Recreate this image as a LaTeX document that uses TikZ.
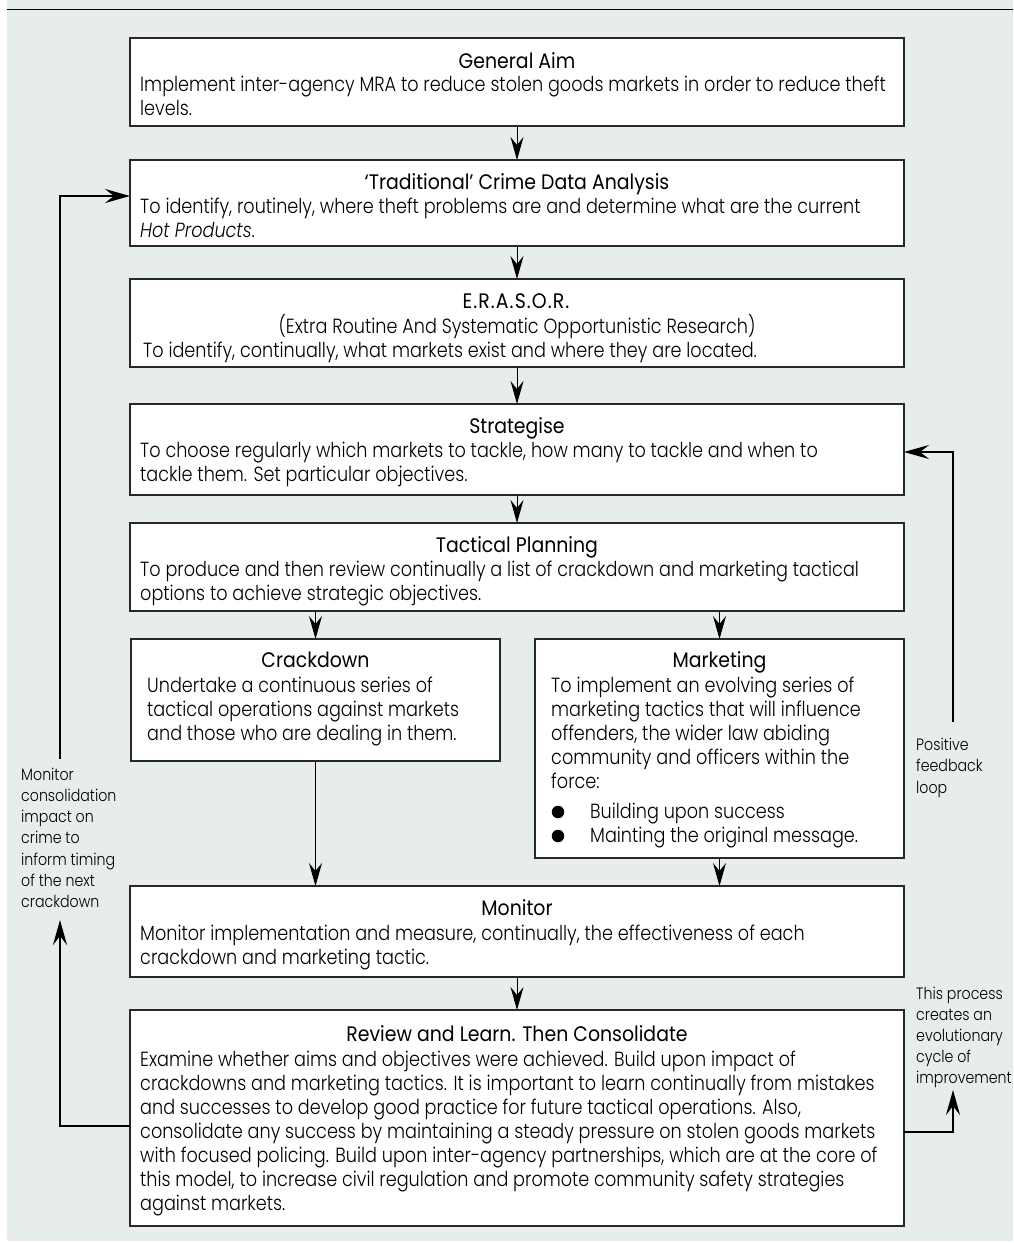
\documentclass[tikz,border=0pt]{standalone}
\usepackage{fontspec}
\setmainfont{Poppins}[UprightFont=* Light, ItalicFont=* Light Italic, FakeStretch=0.86]
\newfontfamily\titlefont{Poppins}[FakeStretch=0.9]
\usetikzlibrary{arrows.meta}
\definecolor{bgc}{RGB}{231,237,235}
\definecolor{linec}{RGB}{40,40,40}
\newcommand\blines[2]{\vtop{\baselineskip=#1\lineskiplimit=-100pt\lineskip=0pt\halign{##\hfil\cr#2\crcr}}}
\begin{document}
\begin{tikzpicture}[x=1pt,y=-1pt,
  box/.style={draw=linec, line width=1.6pt, fill=white, inner sep=0pt, outer sep=0pt, rectangle},
  ttl/.style={font=\titlefont\fontsize{21}{24}\selectfont, inner sep=0pt, anchor=base, text=black},
  bodyt/.style={font=\fontsize{20.5}{24}\selectfont, inner sep=0pt, anchor=base west, text=black},
  lbl/.style={font=\fontsize{16.5}{21}\selectfont, inner sep=0pt, anchor=base west, text=black},
  flow/.style={draw=black, line width=1pt, -{Stealth[length=23pt,width=13pt,inset=8pt]}},
  loopar/.style={draw=black, line width=2.4pt, -{Stealth[length=25pt,width=14pt,inset=9pt]}},
  dot/.style={circle, fill=black, inner sep=0pt, minimum size=12.5pt}]
\useasboundingbox (0,0) rectangle (1013,1243);
\fill[white] (0,0) rectangle (1013,1243);
\fill[bgc] (7,0) rectangle (1013,1241);
\draw[line width=1.3pt] (7,9.3) -- (1013,9.3);

% boxes
\node[box, minimum width=774pt, minimum height=88.3pt] (ga) at (517,81.85) {};
\node[box, minimum width=774pt, minimum height=85.7pt] (trad) at (517,202.85) {};
\node[box, minimum width=774pt, minimum height=88pt] (eras) at (517,323) {};
\node[box, minimum width=774pt, minimum height=91pt] (strat) at (517,449.5) {};
\node[box, minimum width=774pt, minimum height=88pt] (tact) at (517,567) {};
\node[box, minimum width=369pt, minimum height=122pt] (crack) at (315.5,700) {};
\node[box, minimum width=369pt, minimum height=219pt] (mark) at (719.5,748.5) {};
\node[box, minimum width=774pt, minimum height=91pt] (mon) at (517,931.5) {};
\node[box, minimum width=774pt, minimum height=216pt] (rev) at (517,1118) {};

% texts
\node[ttl] (gaT) at (517,68) {General Aim};
\node[bodyt] (gaB) at (140,91) {\blines{24pt}{Implement inter-agency MRA to reduce stolen goods markets in order to reduce theft\cr levels.}};

\node[ttl] (tradT) at (517,189) {‘Traditional’ Crime Data Analysis};
\node[bodyt] (tradB) at (140,213) {\blines{24pt}{To identify, routinely, where theft problems are and determine what are the current\cr \itshape Hot Products\upshape .}};

\node[ttl] (erasT) at (516,308) {\addfontfeature{LetterSpace=5}E.R.A.S.O.R.};
\node[bodyt, anchor=base] (erasS) at (517,333) {(Extra Routine And Systematic Opportunistic Research)};
\node[bodyt] (erasB) at (143,357) {To identify, continually, what markets exist and where they are located.};

\node[ttl] (stratT) at (517,433) {Strategise};
\node[bodyt] (stratB) at (140,457) {\blines{24pt}{To choose regularly which markets to tackle, how many to tackle and when to\cr tackle them. Set particular objectives.}};

\node[ttl] (tactT) at (517,552) {Tactical Planning};
\node[bodyt] (tactB) at (140,576) {\blines{24pt}{To produce and then review continually a list of crackdown and marketing tactical\cr options to achieve strategic objectives.}};

\node[ttl] (crackT) at (315.5,667) {Crackdown};
\node[bodyt] (crackB) at (147,692) {\blines{24pt}{Undertake a continuous series of\cr tactical operations against markets\cr and those who are dealing in them.}};

\node[ttl] (markT) at (719.5,667) {Marketing};
\node[bodyt] (markB) at (551,692) {\blines{24pt}{To implement an evolving series of\cr marketing tactics that will influence\cr offenders, the wider law abiding\cr community and officers within the\cr force:}};
\node[dot] (mb1) at (558,812) {};
\node[dot] (mb2) at (558,836) {};
\node[bodyt] (mb1T) at (590,818) {Building upon success};
\node[bodyt] (mb2T) at (590,842) {Mainting the original message.};

\node[ttl] (monT) at (517,915) {Monitor};
\node[bodyt] (monB) at (140,940) {\blines{24pt}{Monitor implementation and measure, continually, the effectiveness of each\cr crackdown and marketing tactic.}};

\node[ttl] (revT) at (517,1041) {Review and Learn. Then Consolidate};
\node[bodyt] (revB) at (140,1066) {\blines{24pt}{Examine whether aims and objectives were achieved. Build upon impact of\cr
crackdowns and marketing tactics. It is important to learn continually from mistakes\cr
and successes to develop good practice for future tactical operations. Also,\cr
consolidate any success by maintaining a steady pressure on stolen goods markets\cr
with focused policing. Build upon inter-agency partnerships, which are at the core of\cr
this model, to increase civil regulation and promote community safety strategies\cr
against markets.}};

% side labels
\node[lbl] (leftL) at (21,780) {\blines{21.3pt}{Monitor\cr consolidation\cr impact on\cr crime to\cr inform timing\cr of the next\cr crackdown}};
\node[lbl] (fbL) at (916,750) {\blines{21.5pt}{Positive\cr feedback\cr loop}};
\node[lbl] (procL) at (916,999) {\blines{21pt}{This process\cr creates an\cr evolutionary\cr cycle of\cr improvement}};

% flow connectors
\draw[flow] (ga.south) -- (trad.north);
\draw[flow] (trad.south) -- (eras.north);
\draw[flow] (eras.south) -- (strat.north);
\draw[flow] (strat.south) -- (tact.north);
\draw[flow] (tact.south -| crack.north) -- (crack.north);
\draw[flow] (tact.south -| mark.north) -- (mark.north);
\draw[flow] (crack.south) -- (mon.north -| crack.south);
\draw[flow] (mark.south) -- (mon.north -| mark.south);
\draw[flow] (mon.south) -- (rev.north);

% loops
\coordinate (lup) at (60,920);
\coordinate (ldown) at (60,759);
\coordinate (rup) at (953,1090);
\coordinate (rdown) at (953,722);
\draw[loopar] ([yshift=-8pt]rev.west) -| (lup);
\draw[loopar] (ldown) |- ([yshift=6.85pt]trad.west);
\draw[loopar] ([yshift=-14pt]rev.east) -| (rup);
\draw[loopar] (rdown) |- ([yshift=-2.5pt]strat.east);
\end{tikzpicture}
\end{document}
